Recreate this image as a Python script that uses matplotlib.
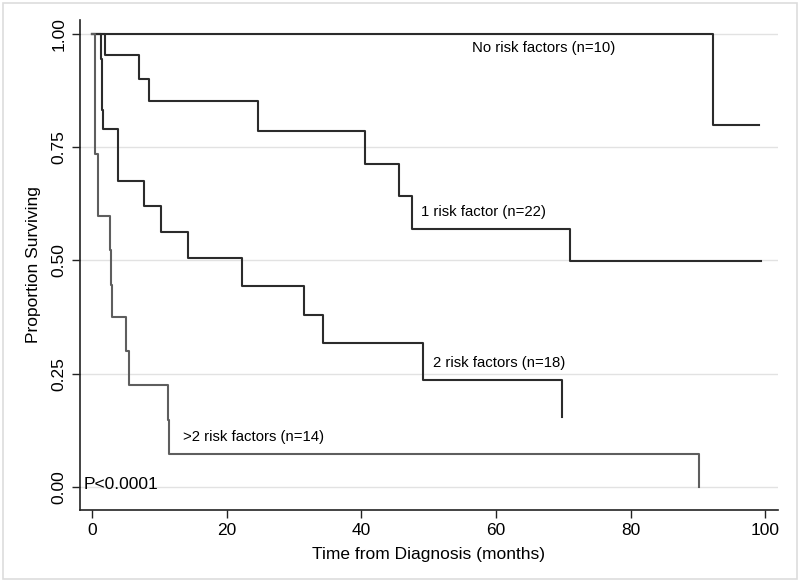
import matplotlib
matplotlib.use("Agg")
import matplotlib.pyplot as plt
from matplotlib.patches import Rectangle

plt.rcParams["font.family"] = ["Liberation Sans", "DejaVu Sans"]

# Kaplan-Meier curves (time in months, proportion surviving)
t_none = [0, 92.3, 99.1]
s_none = [1.0, 0.798, 0.798]

t_one = [0, 1.9, 7.0, 8.5, 24.6, 40.6, 45.6, 47.5, 71.0, 99.4]
s_one = [1.0, 0.953, 0.901, 0.852, 0.786, 0.713, 0.643, 0.570, 0.499, 0.499]

t_two = [0, 1.35, 1.4, 1.5, 1.55, 3.9, 7.7, 10.3, 14.3, 22.2, 31.5, 34.3, 49.1, 69.8]
s_two = [1.0, 0.944, 0.889, 0.833, 0.790, 0.675, 0.621, 0.562, 0.506, 0.443,
         0.380, 0.317, 0.236, 0.155]

t_more = [0, 0.4, 0.45, 0.8, 0.9, 2.7, 2.85, 3.0, 5.0, 5.5, 11.2, 11.35, 90.2]
s_more = [1.0, 0.80, 0.734, 0.664, 0.598, 0.523, 0.446, 0.375, 0.299, 0.225,
          0.148, 0.073, 0.0]

labels = ["No risk factors (n=10)", "1 risk factor (n=22)",
          "2 risk factors (n=18)", ">2 risk factors (n=14)"]

fig = plt.figure(figsize=(8, 5.82), dpi=100)
fig.patches.append(Rectangle((0.004, 0.005), 0.992, 0.99, transform=fig.transFigure,
                             fill=False, edgecolor="#dddddd", linewidth=1.2))
ax = fig.add_axes([0.1, 0.1237, 0.8725, 0.842])

dark = "#2b2b2b"
grey = "#5e5e5e"
ax.step(t_none, s_none, where="post", color=dark, lw=1.5)
ax.step(t_one, s_one, where="post", color=dark, lw=1.5)
ax.step(t_two, s_two, where="post", color=dark, lw=1.5)
ax.step(t_more, s_more, where="post", color=grey, lw=1.5)

ax.set_xlim(-1.8, 101.9)
ax.set_ylim(-0.051, 1.031)
ax.set_xticks([0, 20, 40, 60, 80, 100])
ax.set_yticks([0, 0.25, 0.5, 0.75, 1.0])
ax.set_yticklabels(["0.00", "0.25", "0.50", "0.75", "1.00"], rotation=90, va="center")
ax.tick_params(labelsize=12.5, length=6, width=1, color="#222222", direction="out")
ax.yaxis.grid(True, color="#e2e2e2", lw=1)
ax.set_axisbelow(True)
for side in ["top", "right"]:
    ax.spines[side].set_visible(False)
for side in ["left", "bottom"]:
    ax.spines[side].set_color("#222222")
    ax.spines[side].set_linewidth(1.2)

ax.set_xlabel("Time from Diagnosis (months)", fontsize=12.5, labelpad=6)
ax.set_ylabel("Proportion Surviving", fontsize=12.5, labelpad=8)

ax.text(56.5, 0.97, labels[0], fontsize=10.7, ha="left", va="center")
ax.text(48.8, 0.608, labels[1], fontsize=10.7, ha="left", va="center")
ax.text(50.6, 0.273, labels[2], fontsize=10.7, ha="left", va="center")
ax.text(13.5, 0.111, labels[3], fontsize=10.7, ha="left", va="center")
ax.text(-1.3, 0.005, "P<0.0001", fontsize=12.5, ha="left", va="center")

fig.savefig("out.png", dpi=100)
